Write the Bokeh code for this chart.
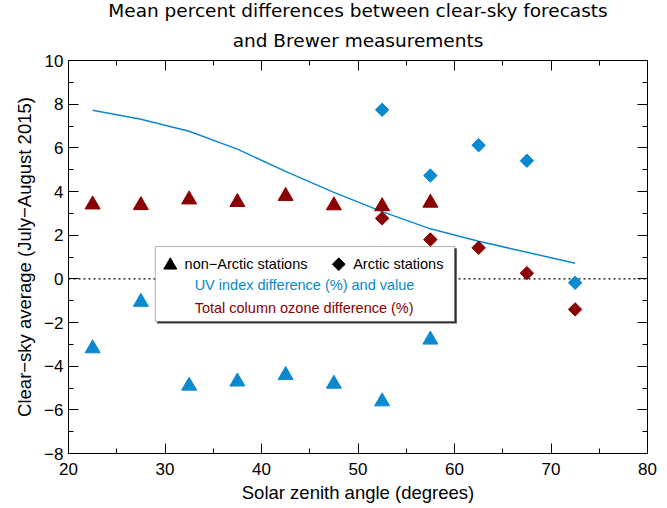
from bokeh.plotting import figure
from bokeh.models import (LinearAxis, Span, BoxAnnotation, Label, Range1d, Title,
                          FixedTicker, CustomJSTickFormatter)
from bokeh.embed import file_html
from bokeh.resources import INLINE

# ---------------- data ----------------
sza_all = [22.5, 27.5, 32.5, 37.5, 42.5, 47.5, 52.5, 57.5, 62.5, 67.5, 72.5]
uv_index_value = [7.72, 7.31, 6.76, 5.94, 4.92, 3.96, 3.08, 2.29, 1.72, 1.22, 0.71]

sza_nonarctic = [22.5, 27.5, 32.5, 37.5, 42.5, 47.5, 52.5, 57.5]
uv_diff_nonarctic = [-3.19, -1.06, -4.90, -4.71, -4.41, -4.81, -5.62, -2.79]
o3_diff_nonarctic = [3.40, 3.37, 3.63, 3.51, 3.79, 3.36, 3.32, 3.48]

sza_arctic = [52.5, 57.5, 62.5, 67.5, 72.5]
uv_diff_arctic = [7.74, 4.73, 6.12, 5.41, -0.18]
o3_diff_arctic = [2.77, 1.80, 1.42, 0.26, -1.40]

x_major = [20, 30, 40, 50, 60, 70, 80]
x_minor = [20, 25, 30, 35, 40, 45, 50, 55, 60, 65, 70, 75, 80]
y_major = [-8, -6, -4, -2, 0, 2, 4, 6, 8, 10]
y_minor = [-8, -7, -6, -5, -4, -3, -2, -1, 0, 1, 2, 3, 4, 5, 6, 7, 8, 9, 10]

title_line1 = "Mean percent differences between clear-sky forecasts"
title_line2 = "and Brewer measurements"
x_label = "Solar zenith angle (degrees)"
y_label = "Clear\u2212sky average (July\u2212August 2015)"

BLUE = "#0a88d0"
RED = "#8b0000"
FONT = "Liberation Sans"

X_MIN, X_MAX = 20, 80
Y_MIN, Y_MAX = -8, 10

p = figure(width=667, height=508, output_backend="svg", toolbar_location=None,
           x_range=Range1d(X_MIN, X_MAX), y_range=Range1d(Y_MIN, Y_MAX),
           min_border_left=68, min_border_right=20, min_border_top=59,
           min_border_bottom=55, x_axis_label=x_label, y_axis_label=y_label)

p.title.visible = False
p.xgrid.visible = False
p.ygrid.visible = False
p.outline_line_color = "black"
p.outline_line_width = 1
p.background_fill_color = "white"
p.border_fill_color = "white"

fmt = CustomJSTickFormatter(code="return tick < 0 ? '\\u2212' + Math.abs(tick) : tick.toString();")
blank_fmt = CustomJSTickFormatter(code="return '';")

def style_axis(ax, ticks, minor, labels=True):
    ax.ticker = FixedTicker(ticks=ticks, minor_ticks=minor)
    ax.major_tick_in = 10
    ax.major_tick_out = 0
    ax.minor_tick_in = 5
    ax.minor_tick_out = 0
    ax.axis_line_color = "black"
    ax.major_tick_line_color = "black"
    ax.minor_tick_line_color = "black"
    if labels:
        ax.formatter = fmt
        ax.major_label_text_font = FONT
        ax.major_label_text_font_size = "17px"
        ax.major_label_text_color = "black"
        ax.axis_label_text_font = FONT
        ax.axis_label_text_font_style = "normal"
        ax.axis_label_text_color = "black"
        ax.axis_label_text_font_size = "18.5px"
    else:
        ax.formatter = blank_fmt
        ax.major_label_standoff = 0
        ax.axis_label = None

style_axis(p.xaxis[0], x_major, x_minor)
p.xaxis[0].major_label_standoff = 9
p.xaxis[0].axis_label_standoff = 4
style_axis(p.yaxis[0], y_major, y_minor)
p.yaxis[0].major_label_standoff = 5
p.yaxis[0].axis_label_standoff = 6

# mirrored tick marks on the top and right edges of the frame
top_ax = LinearAxis(fixed_location=Y_MAX)
style_axis(top_ax, x_major, x_minor, labels=False)
p.add_layout(top_ax, "above")
right_ax = LinearAxis(fixed_location=X_MAX)
style_axis(right_ax, y_major, y_minor, labels=False)
p.add_layout(right_ax, "right")

# two-line centred title (first added = closest to the plot)
p.add_layout(Title(text=title_line2, align="center", text_font="DejaVu Sans",
                   text_font_size="18.5px", text_font_style="normal",
                   text_color="black", standoff=19, offset=0), "above")
p.add_layout(Title(text=title_line1, align="center", text_font="DejaVu Sans",
                   text_font_size="18.5px", text_font_style="normal",
                   text_color="black", standoff=-5, offset=0), "above")

# zero reference line
p.add_layout(Span(location=0, dimension="width", line_color="black",
                  line_dash="2 3", line_width=1.2, level="underlay"))

# legend box (drawn manually: shadow then white box)
p.add_layout(BoxAnnotation(left=29.20, right=60.22, top=1.39, bottom=-2.04,
                           fill_color="#333333", fill_alpha=1, line_color="#333333",
                           level="underlay"))
p.add_layout(BoxAnnotation(left=28.99, right=60.01, top=1.48, bottom=-1.95,
                           fill_color="white", fill_alpha=1, line_color="black",
                           line_width=1, level="underlay"))

# data
p.line(sza_all, uv_index_value, line_color=BLUE, line_width=1.5)
p.scatter(sza_nonarctic, o3_diff_nonarctic, marker="triangle", size=15,
          fill_color=RED, line_color=RED)
p.scatter(sza_nonarctic, uv_diff_nonarctic, marker="triangle", size=15,
          fill_color=BLUE, line_color=BLUE)
p.scatter(sza_arctic, uv_diff_arctic, marker="square", size=9.5, angle=0.785398,
          fill_color=BLUE, line_color=BLUE)
p.scatter(sza_arctic, o3_diff_arctic, marker="square", size=9.5, angle=0.785398,
          fill_color=RED, line_color=RED)

# legend symbols
p.scatter([30.55], [0.62], marker="triangle", size=13,
          fill_color="black", line_color="black")
p.scatter([48.01], [0.67], marker="square", size=9, angle=0.785398,
          fill_color="black", line_color="black")

def add_text(x, y, txt, color):
    p.add_layout(Label(x=x, y=y, text=txt, text_color=color, text_font=FONT,
                       text_font_size="14.5px", text_baseline="middle",
                       text_align="left"))

add_text(32.03, 0.69, "non\u2212Arctic stations", "black")
add_text(49.50, 0.69, "Arctic stations", "black")
add_text(33.07, -0.27, "UV index difference (%) and value", BLUE)
add_text(33.07, -1.34, "Total column ozone difference (%)", RED)

open("out.html", "w").write(file_html(p, INLINE))
